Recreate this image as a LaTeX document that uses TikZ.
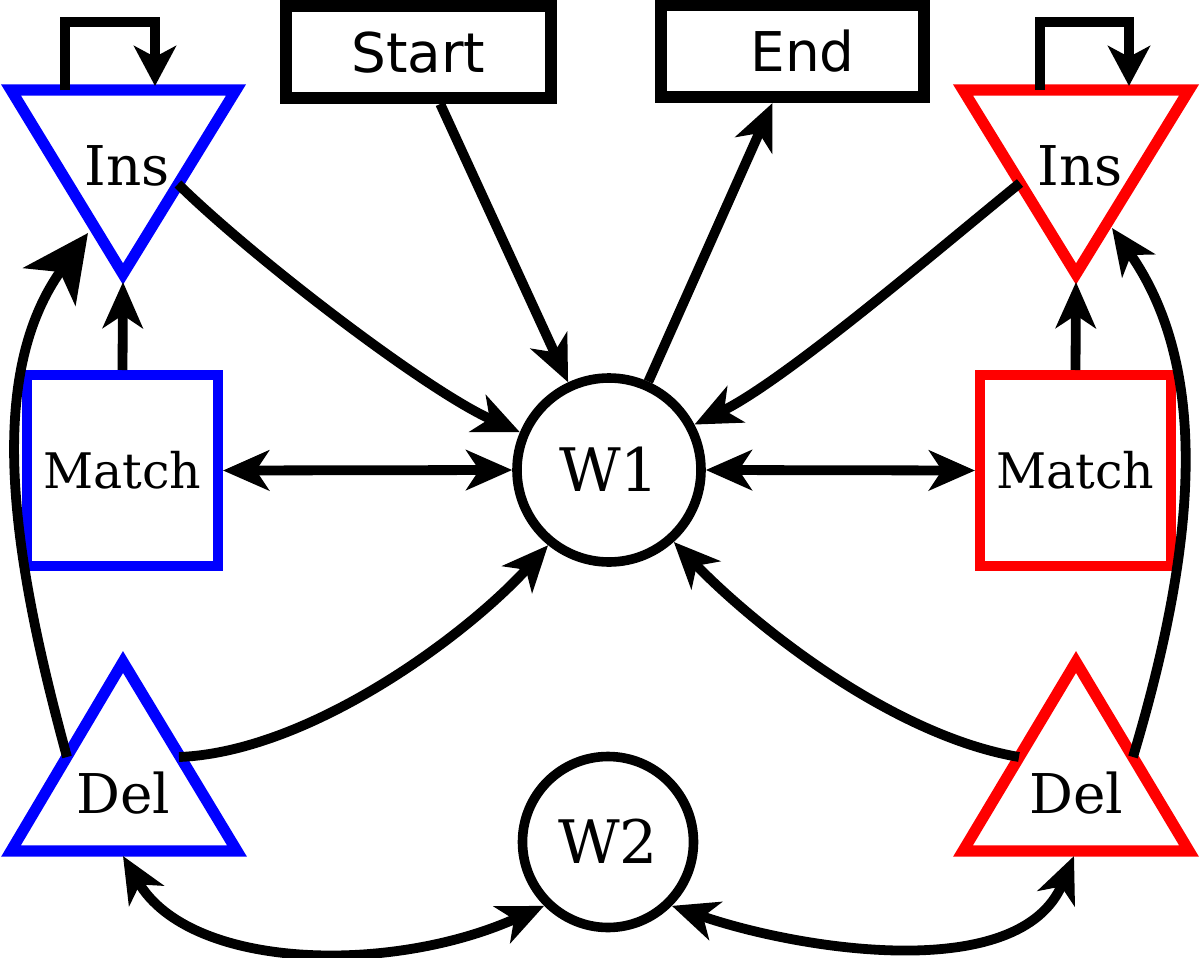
\documentclass[tikz,border=0pt]{standalone}
\usepackage{fontspec}
\setmainfont{DejaVu Serif}
\newfontfamily\labsans{DejaVu Sans}
\usetikzlibrary{arrows.meta,calc}
\begin{document}
\begin{tikzpicture}[x=0.5pt,y=-0.5pt,
  >={Stealth[length=23pt,width=20pt,inset=6.5pt]},
  conn/.style={line width=4.9pt,->},
  conn2/.style={line width=4.9pt,<->},
  bigtip/.style={line width=4.9pt,-{Stealth[length=33pt,width=32pt,inset=9pt]}},
  loopc/.style={line width=5pt,line join=miter,-{Stealth[length=20pt,width=21pt,inset=5.5pt]}},
  tri/.style={line width=5.6pt,line join=miter},
  lab/.style={inner sep=0pt,text height=20pt,text depth=0pt,font=\fontsize{27.4}{30}\selectfont},
  sqbox/.style={draw,line width=5pt,minimum width=95.5pt,minimum height=95.5pt,inner sep=0pt,text height=17.9pt,text depth=0pt,font=\fontsize{24.5}{28}\selectfont},
  startbox/.style={draw,line width=6pt,minimum height=46pt,inner sep=0pt,text height=20pt,text depth=0pt,font=\labsans\fontsize{27.4}{30}\selectfont},
  circ/.style={draw,circle,line width=4.8pt,inner sep=0pt,text height=21.9pt,text depth=0pt,font=\fontsize{30}{34}\selectfont},
]
\useasboundingbox (0,0) rectangle (1200,958);

% triangles
\draw[tri,blue] (11,90) -- (236,90) -- (123,274) -- cycle;
\draw[tri,red] (963,90) -- (1189,90) -- (1076,274) -- cycle;
\draw[tri,blue] (123,662) -- (237,851) -- (11,851) -- cycle;
\draw[tri,red] (1076,662) -- (1189,851) -- (963,851) -- cycle;

\node[lab] (insL) at (127,165) {Ins};
\node[lab] (insR) at (1080,165) {Ins};
\node[lab] (delL) at (123,793) {Del};
\node[lab] (delR) at (1076,793) {Del};

% connector points on triangles
\coordinate (insLloopA) at (65,90);
\coordinate (insLloopB) at (155,86);
\coordinate (insLr) at (178,184);
\coordinate (insLb) at (123,282);
\coordinate (insLl) at (88,233);
\coordinate (insRloopA) at (1040,90);
\coordinate (insRloopB) at (1129,86);
\coordinate (insRl) at (1020,183);
\coordinate (insRb) at (1076,282);
\coordinate (insRr) at (1112,228);
\coordinate (delLl) at (67,757);
\coordinate (delLr) at (179,757);
\coordinate (delLb) at (123,856);
\coordinate (delRl) at (1019,757);
\coordinate (delRr) at (1133,757);
\coordinate (delRb) at (1074,856);

% boxes and circles
\node[sqbox,draw=blue] (matchL) at (122.5,470.5) {Match};
\node[sqbox,draw=red] (matchR) at (1075.5,470.5) {Match};
\node[circ,minimum size=92pt] (w1) at (609,470) {W1};
\node[circ,minimum size=85.5pt] (w2) at (608,842) {W2};
\node[startbox,minimum width=132.75pt] (start) at (418.25,52) {Start};
\node[startbox,minimum width=131.5pt] (end) at (792.5,51) {\hspace*{10pt}End};

% self loops
\draw[loopc] (insLloopA) -- ++(0,-68) -| (insLloopB);
\draw[loopc] (insRloopA) -- ++(0,-68) -| (insRloopB);

% connectors
\draw[conn] (matchL.north) -- (insLb);
\draw[conn] (matchR.north) -- (insRb);
\draw[conn] ([xshift=11pt]start.south) -- (w1.115);
\draw[conn] (w1.66) -- ([xshift=-10pt]end.south);
\draw[conn] (insLr) .. controls (250,255) and (425,390) .. (w1.157);
\draw[conn] (insRl) .. controls (941,247) and (786,380) .. (w1.28);
\draw[conn2] (matchL.east) -- (w1.west);
\draw[conn2] (w1.east) -- (matchR.west);
\draw[conn] (delLr) .. controls (310,752) and (468,634) .. (w1.-129);
\draw[conn] (delRl) .. controls (890,735) and (752,623) .. (w1.-48);
\draw[bigtip] (delLl) .. controls (14,563) and (-17,379) .. (insLl);
\draw[conn] (delRr) .. controls (1191,563) and (1216,376) .. (insRr);
\draw[conn2] (delLb) .. controls (190,970) and (390,975) .. (w2.-135);
\draw[conn2] (w2.-45) .. controls (800,950) and (1020,985) .. (delRb);
\end{tikzpicture}
\end{document}
